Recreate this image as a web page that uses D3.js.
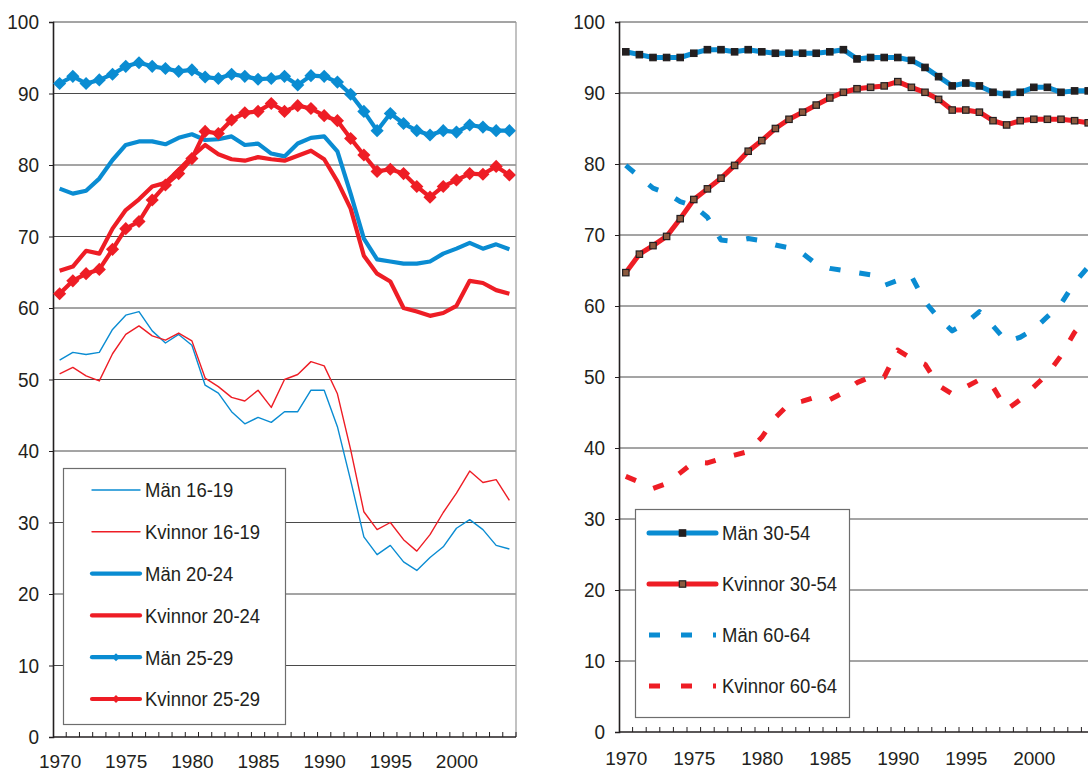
<!DOCTYPE html>
<html>
<head>
<meta charset="utf-8">
<script src="https://cdn.jsdelivr.net/npm/d3@7"></script>
<style>
  body { margin: 0; background: #fff; }
  svg { display: block; font-family: "Liberation Sans", Arial, sans-serif; }
</style>
</head>
<body>
<div id="canvas"></div>
<script>
const years = d3.range(1970, 2005);
const yearLabels = [1970, 1975, 1980, 1985, 1990, 1995, 2000];
const yTicks = [0, 10, 20, 30, 40, 50, 60, 70, 80, 90, 100];

// left panel
const man1619 = [52.7, 53.8, 53.5, 53.8, 57.0, 59.0, 59.5, 56.8, 55.1, 56.3, 54.8, 49.2, 48.1, 45.5, 43.8, 44.7, 44.0, 45.5, 45.5, 48.5, 48.5, 43.4, 35.9, 28.0, 25.5, 26.8, 24.5, 23.3, 25.1, 26.6, 29.2, 30.4, 29.0, 26.8, 26.3];
const kv1619 = [50.8, 51.7, 50.5, 49.8, 53.6, 56.3, 57.5, 56.1, 55.5, 56.5, 55.4, 50.2, 49.0, 47.5, 47.0, 48.5, 46.1, 50.0, 50.7, 52.5, 51.9, 48.0, 40.2, 31.5, 29.0, 30.0, 27.6, 26.0, 28.3, 31.4, 34.1, 37.2, 35.6, 36.0, 33.1];
const man2024 = [76.7, 76.0, 76.4, 78.1, 80.7, 82.8, 83.3, 83.3, 82.9, 83.8, 84.3, 83.5, 83.6, 84.0, 82.8, 83.0, 81.6, 81.2, 83.0, 83.8, 84.0, 81.9, 76.0, 69.7, 66.8, 66.5, 66.2, 66.2, 66.5, 67.6, 68.3, 69.1, 68.3, 68.9, 68.2];
const kv2024 = [65.2, 65.8, 68.0, 67.6, 71.1, 73.7, 75.2, 77.0, 77.5, 79.3, 81.2, 82.8, 81.5, 80.8, 80.6, 81.1, 80.8, 80.6, 81.3, 82.0, 80.8, 77.7, 73.9, 67.3, 64.8, 63.7, 60.0, 59.5, 58.9, 59.3, 60.3, 63.8, 63.5, 62.5, 62.0];
const man2529 = [91.4, 92.4, 91.4, 91.9, 92.7, 93.8, 94.3, 93.8, 93.5, 93.1, 93.3, 92.3, 92.1, 92.7, 92.4, 92.0, 92.1, 92.4, 91.2, 92.5, 92.4, 91.6, 89.9, 87.5, 84.8, 87.2, 85.8, 84.8, 84.2, 84.8, 84.6, 85.6, 85.3, 84.8, 84.8];
const kv2529 = [62.0, 63.8, 64.8, 65.4, 68.2, 71.1, 72.1, 75.1, 77.2, 78.8, 80.9, 84.7, 84.4, 86.3, 87.3, 87.5, 88.6, 87.5, 88.3, 87.9, 86.9, 86.2, 83.7, 81.4, 79.1, 79.4, 78.8, 77.0, 75.5, 77.0, 77.9, 78.8, 78.7, 79.8, 78.6];

// right panel
const man3054 = [95.8, 95.4, 95.0, 95.0, 95.0, 95.6, 96.1, 96.1, 95.8, 96.1, 95.8, 95.6, 95.6, 95.6, 95.6, 95.8, 96.1, 94.8, 95.0, 95.0, 95.0, 94.6, 93.6, 92.3, 91.0, 91.4, 91.0, 90.1, 89.8, 90.1, 90.8, 90.8, 90.1, 90.3, 90.3];
const kv3054 = [64.7, 67.3, 68.5, 69.8, 72.3, 75.0, 76.5, 78.0, 79.8, 81.8, 83.3, 85.0, 86.3, 87.3, 88.3, 89.3, 90.1, 90.6, 90.8, 91.0, 91.6, 90.8, 90.1, 89.1, 87.6, 87.6, 87.3, 86.1, 85.5, 86.1, 86.3, 86.3, 86.3, 86.1, 85.8];
const man6064 = [79.8, 78.2, 76.6, 75.9, 74.7, 74.1, 72.5, 69.3, 69.1, 69.5, 69.2, 68.6, 68.2, 67.4, 65.9, 65.3, 65.0, 64.7, 64.4, 62.9, 63.6, 64.2, 60.6, 58.3, 56.5, 57.6, 59.2, 57.2, 55.0, 55.6, 56.7, 58.5, 60.3, 63.3, 65.5];
const kv6064 = [36.0, 35.2, 34.3, 35.0, 36.5, 38.0, 37.9, 38.5, 39.0, 39.5, 41.5, 44.3, 46.2, 46.6, 47.2, 46.8, 47.8, 49.2, 50.0, 50.0, 53.8, 52.6, 51.8, 48.8, 47.6, 48.6, 49.6, 48.6, 45.4, 46.8, 48.6, 50.4, 53.0, 56.3, 58.5];

const BLUE = "#0a8cd2";
const RED = "#ee1d25";
const INK = "#231f20";

const svg = d3.select("#canvas").append("svg")
    .attr("width", 1088)
    .attr("height", 773);

function panel(box) {
    const x = d3.scaleLinear().domain([1969.5, 2004.5]).range([box.left, box.right]);
    const y = d3.scaleLinear().domain([0, 100]).range([box.bottom, box.top]);
    const g = svg.append("g");

    // grid
    g.selectAll("line.grid").data(yTicks.filter(d => d > 0)).enter().append("line")
        .attr("x1", box.left).attr("x2", box.right)
        .attr("y1", d => y(d)).attr("y2", d => y(d))
        .attr("stroke", "#4a4a4a").attr("stroke-width", 1);

    if (box.frame) {
        g.append("line")
            .attr("x1", box.right).attr("x2", box.right)
            .attr("y1", box.top).attr("y2", box.bottom)
            .attr("stroke", "#999").attr("stroke-width", 1.2);
    }

    // y axis
    const ya = g.append("g")
        .attr("transform", `translate(${box.left},0)`)
        .call(d3.axisLeft(y).tickValues(yTicks).tickSize(4).tickPadding(10));
    ya.select(".domain").attr("stroke", INK).attr("stroke-width", 1.6);
    ya.selectAll(".tick line").attr("stroke", INK);
    ya.selectAll("text").attr("fill", INK).style("font-size", "19px")
        .attr("transform", "scale(1,1.1)");

    // x axis: labels at years, small ticks between years
    const xa = g.append("g")
        .attr("transform", `translate(0,${box.bottom})`)
        .call(d3.axisBottom(x).tickValues(yearLabels).tickSize(0).tickPadding(box.labelPad).tickFormat(d3.format("d")));
    xa.select(".domain").remove();
    xa.selectAll("text").attr("fill", INK).style("font-size", "19px");

    g.selectAll("line.xt").data(years).enter().append("line")
        .attr("x1", d => x(d + 0.5)).attr("x2", d => x(d + 0.5))
        .attr("y1", box.bottom).attr("y2", box.bottom - 5)
        .attr("stroke", INK).attr("stroke-width", 1);
    g.append("line")
        .attr("x1", box.left).attr("x2", box.right)
        .attr("y1", box.bottom).attr("y2", box.bottom)
        .attr("stroke", INK).attr("stroke-width", 1.6);

    return { x, y, g };
}

function drawLine(p, values, style) {
    const line = d3.line().x((d, i) => p.x(years[i])).y(d => p.y(d));
    p.g.append("path")
        .datum(values)
        .attr("d", line)
        .attr("fill", "none")
        .attr("stroke", style.color)
        .attr("stroke-width", style.width)
        .attr("stroke-linejoin", "round")
        .attr("stroke-dasharray", style.dash || null);
    if (style.marker === "diamond") {
        p.g.selectAll(null).data(values).enter().append("path")
            .attr("d", d3.symbol(d3.symbolDiamond2, 110)())
            .attr("transform", (d, i) => `translate(${p.x(years[i])},${p.y(d)})`)
            .attr("fill", style.color);
    }
    if (style.marker === "square") {
        p.g.selectAll(null).data(values).enter().append("rect")
            .attr("x", (d, i) => p.x(years[i]) - 3.2)
            .attr("y", d => p.y(d) - 3.2)
            .attr("width", 6.4).attr("height", 6.4)
            .attr("fill", style.markerFill)
            .attr("stroke", INK).attr("stroke-width", 1.2);
    }
}

function legend(box, items) {
    const g = svg.append("g");
    g.append("rect")
        .attr("x", box.x).attr("y", box.y)
        .attr("width", box.w).attr("height", box.h)
        .attr("fill", "#fff").attr("stroke", "#6d6d6d").attr("stroke-width", 1.2);
    items.forEach((it, i) => {
        const cy = box.y0 + i * box.step;
        g.append("line")
            .attr("x1", box.lx1).attr("x2", box.lx2)
            .attr("y1", cy).attr("y2", cy)
            .attr("stroke", it.color)
            .attr("stroke-width", it.width)
            .attr("stroke-linecap", it.dash ? "butt" : "round")
            .attr("stroke-dasharray", it.legendDash || null);
        const mx = (box.lx1 + box.lx2) / 2;
        if (it.marker === "diamond") {
            g.append("path")
                .attr("d", d3.symbol(d3.symbolDiamond2, 40)())
                .attr("transform", `translate(${mx},${cy})`)
                .attr("fill", it.color);
        }
        if (it.marker === "square") {
            g.append("rect")
                .attr("x", mx - 3.2).attr("y", cy - 3.2)
                .attr("width", 6.4).attr("height", 6.4)
                .attr("fill", it.markerFill)
                .attr("stroke", INK).attr("stroke-width", 1.2);
        }
        g.append("text")
            .attr("transform", `translate(${box.tx},${cy}) scale(1,1.1)`)
            .attr("dy", "0.36em")
            .attr("fill", INK)
            .style("font-size", "18.5px")
            .text(it.label);
    });
}

// left chart
const left = panel({ left: 53, right: 516, top: 22, bottom: 737, frame: true, labelPad: 18 });
const leftSeries = [
    { label: "Män 16-19", data: man1619, color: BLUE, width: 1.4 },
    { label: "Kvinnor 16-19", data: kv1619, color: RED, width: 1.4 },
    { label: "Män 20-24", data: man2024, color: BLUE, width: 4.2 },
    { label: "Kvinnor 20-24", data: kv2024, color: RED, width: 4.2 },
    { label: "Män 25-29", data: man2529, color: BLUE, width: 4.2, marker: "diamond" },
    { label: "Kvinnor 25-29", data: kv2529, color: RED, width: 4.2, marker: "diamond" }
];
leftSeries.forEach(s => drawLine(left, s.data, s));
legend({ x: 63.5, y: 468.5, w: 222, h: 256, y0: 490, step: 41.8, lx1: 92, lx2: 140, tx: 145 }, leftSeries);

// right chart
const right = panel({ left: 619, right: 1095, top: 22, bottom: 732, frame: false, labelPad: 20 });
const rightSeries = [
    { label: "Män 30-54", data: man3054, color: BLUE, width: 5, marker: "square", markerFill: INK },
    { label: "Kvinnor 30-54", data: kv3054, color: RED, width: 5, marker: "square", markerFill: "#8c5a3f" },
    { label: "Män 60-64", data: man6064, color: BLUE, width: 5, dash: "11,19", legendDash: "11,21" },
    { label: "Kvinnor 60-64", data: kv6064, color: RED, width: 5, dash: "11,19", legendDash: "11,21" }
];
rightSeries.forEach(s => drawLine(right, s.data, s));
legend({ x: 635.5, y: 509.5, w: 214, h: 208, y0: 533, step: 51, lx1: 649, lx2: 716, tx: 722 }, rightSeries);
</script>
</body>
</html>
